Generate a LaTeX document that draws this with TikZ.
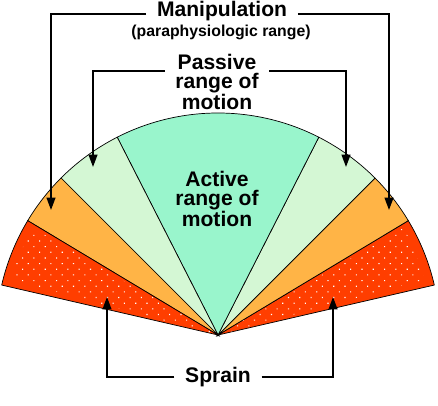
\documentclass[tikz,border=0pt]{standalone}
\usepackage{fontspec}
\setmainfont{Liberation Sans}
\usetikzlibrary{arrows.meta,patterns.meta}
\definecolor{activegreen}{RGB}{153,245,204}
\definecolor{passivegreen}{RGB}{212,247,212}
\definecolor{manorange}{RGB}{255,180,70}
\definecolor{sprainred}{RGB}{255,62,0}

\begin{document}
\begin{tikzpicture}[x=0.02cm, y=0.02cm,
    lbl/.style={font=\bfseries\fontsize{12}{10.5}\selectfont, align=center, inner sep=6pt},
    arr/.style={line width=0.9pt, -{Triangle[length=7pt,width=5pt]}},
    sector/.style={draw=black, line width=0.4pt}]
    \useasboundingbox (-218,-70) rectangle (220,335);
    \draw[sector, fill=sprainred] (0,0) -- (13:222) arc[start angle=13, end angle=31, radius=222] -- cycle;
    \draw[sector, fill=manorange] (0,0) -- (31:222) arc[start angle=31, end angle=45, radius=222] -- cycle;
    \draw[sector, fill=passivegreen] (0,0) -- (45:222) arc[start angle=45, end angle=63, radius=222] -- cycle;
    \draw[sector, fill=activegreen] (0,0) -- (63:222) arc[start angle=63, end angle=117, radius=222] -- cycle;
    \draw[sector, fill=passivegreen] (0,0) -- (117:222) arc[start angle=117, end angle=135, radius=222] -- cycle;
    \draw[sector, fill=manorange] (0,0) -- (135:222) arc[start angle=135, end angle=149, radius=222] -- cycle;
    \draw[sector, fill=sprainred] (0,0) -- (149:222) arc[start angle=149, end angle=167, radius=222] -- cycle;
    \fill[pattern={Dots[radius=0.45pt, distance=0.16cm, angle=45]}, pattern color=white]
        (0,0) -- (15:214) arc[start angle=15, end angle=30, radius=214] -- cycle;
    \fill[pattern={Dots[radius=0.45pt, distance=0.16cm, angle=45]}, pattern color=white]
        (0,0) -- (150:214) arc[start angle=150, end angle=165, radius=214] -- cycle;

    \node[lbl] (manip) at (4,324) {Manipulation};
    \node[font=\bfseries\fontsize{9}{9}\selectfont] (paraph) at (3,303) {(paraphysiologic range)};
    \node[lbl] (passive) at (-1,253) {Passive\\range of\\motion};
    \node[lbl] (active) at (-1,136) {Active\\range of\\motion};
    \node[lbl] (sprain) at (0,-42) {Sprain};

    \coordinate (mancornerL) at (-167,321);
    \coordinate (mantipL) at (-167,125);
    \coordinate (mancornerR) at (171,321);
    \coordinate (mantipR) at (171,125);
    \coordinate (pascornerL) at (-125,264);
    \coordinate (pastipL) at (-125,168);
    \coordinate (pascornerR) at (128,264);
    \coordinate (pastipR) at (128,168);
    \coordinate (sprcornerL) at (-111,-42);
    \coordinate (sprtipL) at (-111,38);
    \coordinate (sprcornerR) at (115,-42);
    \coordinate (sprtipR) at (115,38);

    \draw[arr] (manip.west |- mancornerL) -- (mancornerL) -- (mantipL);
    \draw[arr] (manip.east |- mancornerR) -- (mancornerR) -- (mantipR);
    \draw[arr] (passive.west |- pascornerL) -- (pascornerL) -- (pastipL);
    \draw[arr] (passive.east |- pascornerR) -- (pascornerR) -- (pastipR);
    \draw[arr] (sprain.west) -- (sprcornerL) -- (sprtipL);
    \draw[arr] (sprain.east) -- (sprcornerR) -- (sprtipR);
\end{tikzpicture}
\end{document}
